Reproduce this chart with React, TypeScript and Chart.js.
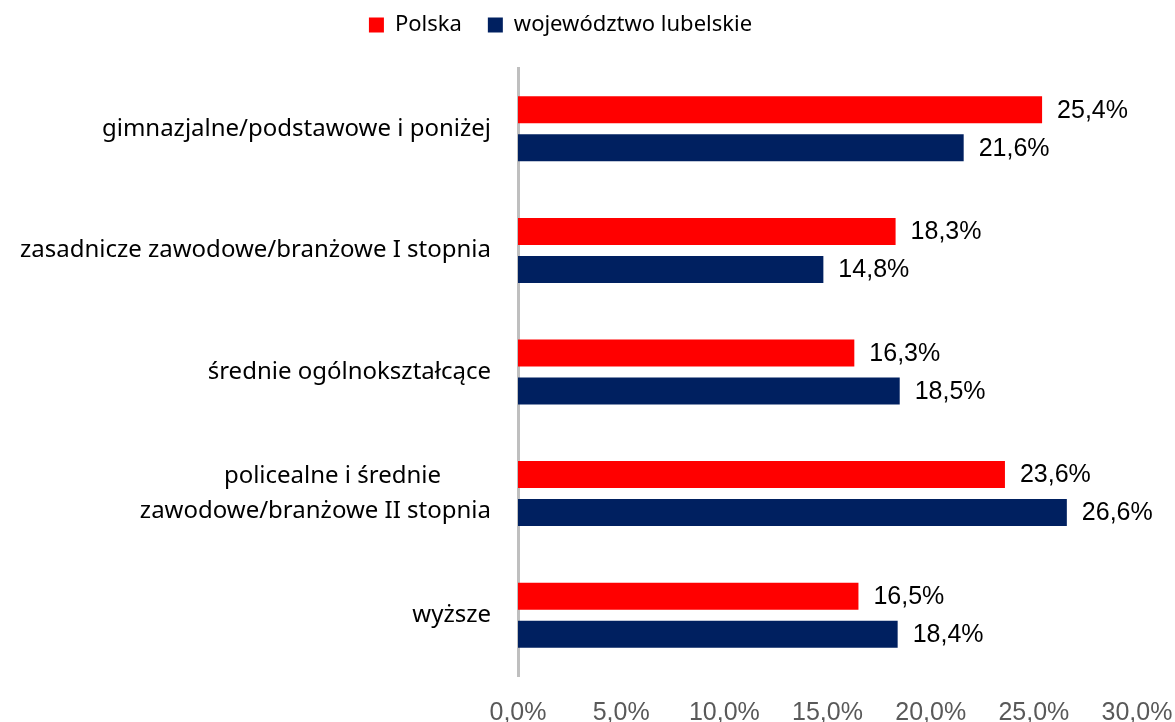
import React, { useEffect, useRef } from "react";
import { Chart, registerables } from "chart.js";

Chart.register(...registerables);

const categories: (string | string[])[] = [
  "gimnazjalne/podstawowe i poniżej",
  "zasadnicze zawodowe/branżowe I stopnia",
  "średnie ogólnokształcące",
  ["policealne i średnie", "zawodowe/branżowe II stopnia"],
  "wyższe",
];
const seriesNames = ["Polska", "województwo lubelskie"];
const polskaValues = [25.4, 18.3, 16.3, 23.6, 16.5];
const lubelskieValues = [21.6, 14.8, 18.5, 26.6, 18.4];
const xTicks = [0, 5, 10, 15, 20, 25, 30];

const fmt = (v: number) => v.toFixed(1).replace(".", ",") + "%";

const valueLabels = {
  id: "valueLabels",
  afterDatasetsDraw(chart: any) {
    const ctx = chart.ctx;
    ctx.save();
    ctx.font = '25px "Liberation Sans"';
    ctx.fillStyle = "#000000";
    ctx.textAlign = "left";
    ctx.textBaseline = "middle";
    chart.data.datasets.forEach((ds: any, di: number) => {
      const meta = chart.getDatasetMeta(di);
      meta.data.forEach((bar: any, i: number) => {
        ctx.fillText(fmt(ds.data[i]), bar.x + 15, bar.y + 1);
      });
    });
    ctx.restore();
  },
};

const LEFT_PAD = -16;

export default function App() {
  const ref = useRef<HTMLCanvasElement>(null);
  useEffect(() => {
    const chart = new Chart(ref.current!, {
      type: "bar",
      data: {
        labels: categories,
        datasets: [
          {
            label: seriesNames[0],
            data: polskaValues,
            backgroundColor: "#FF0000",
            categoryPercentage: 0.625,
            barPercentage: 0.71,
          },
          {
            label: seriesNames[1],
            data: lubelskieValues,
            backgroundColor: "#002060",
            categoryPercentage: 0.625,
            barPercentage: 0.71,
          },
        ],
      },
      options: {
        indexAxis: "y",
        animation: false,
        responsive: true,
        maintainAspectRatio: false,
        layout: { padding: { top: -12, right: 38, left: LEFT_PAD, bottom: 0 } },
        plugins: {
          legend: {
            position: "top",
            labels: {
              font: { family: "Noto Sans", size: 22 },
              color: "#000000",
              boxWidth: 15,
              boxHeight: 15,
              padding: 26,
            },
          },
          title: {
            display: true,
            text: "",
            weight: 500,
            font: { size: 1, lineHeight: 1 },
            padding: { top: 21, bottom: 0 },
          } as any,
          tooltip: { enabled: false },
        },
        scales: {
          x: {
            min: 0,
            max: 30,
            afterBuildTicks: (scale: any) => {
              scale.ticks = xTicks.map((v) => ({ value: v }));
            },
            afterFit: (scale: any) => {
              scale.height = 46;
              scale.paddingLeft = 0;
              scale.paddingRight = 0;
            },
            grid: { display: false, drawTicks: false },
            border: { display: false },
            ticks: {
              color: "#595959",
              font: { family: "Liberation Sans", size: 25 },
              padding: 22,
              maxRotation: 0,
              callback: (v: any) => fmt(Number(v)),
            },
          },
          y: {
            z: 1,
            afterFit: (scale: any) => {
              scale.width = 518 - LEFT_PAD;
            },
            grid: { display: false, drawTicks: false },
            border: { display: true, color: "#BFBFBF", width: 3 },
            ticks: {
              color: "#000000",
              font: { family: "Noto Sans", size: 24, lineHeight: 1.45 },
              padding: 27,
              autoSkip: false,
              callback: function (this: any, _v: any, i: number) {
                const l = categories[i];
                if (Array.isArray(l)) {
                  return [l[0] + "        ", l[1]];
                }
                return l;
              },
            },
          },
        },
      },
      plugins: [valueLabels],
    });
    return () => chart.destroy();
  }, []);
  return (
    <div style={{ position: "absolute", left: 0, top: 0, width: 1175, height: 722 }}>
      <canvas ref={ref} />
    </div>
  );
}
